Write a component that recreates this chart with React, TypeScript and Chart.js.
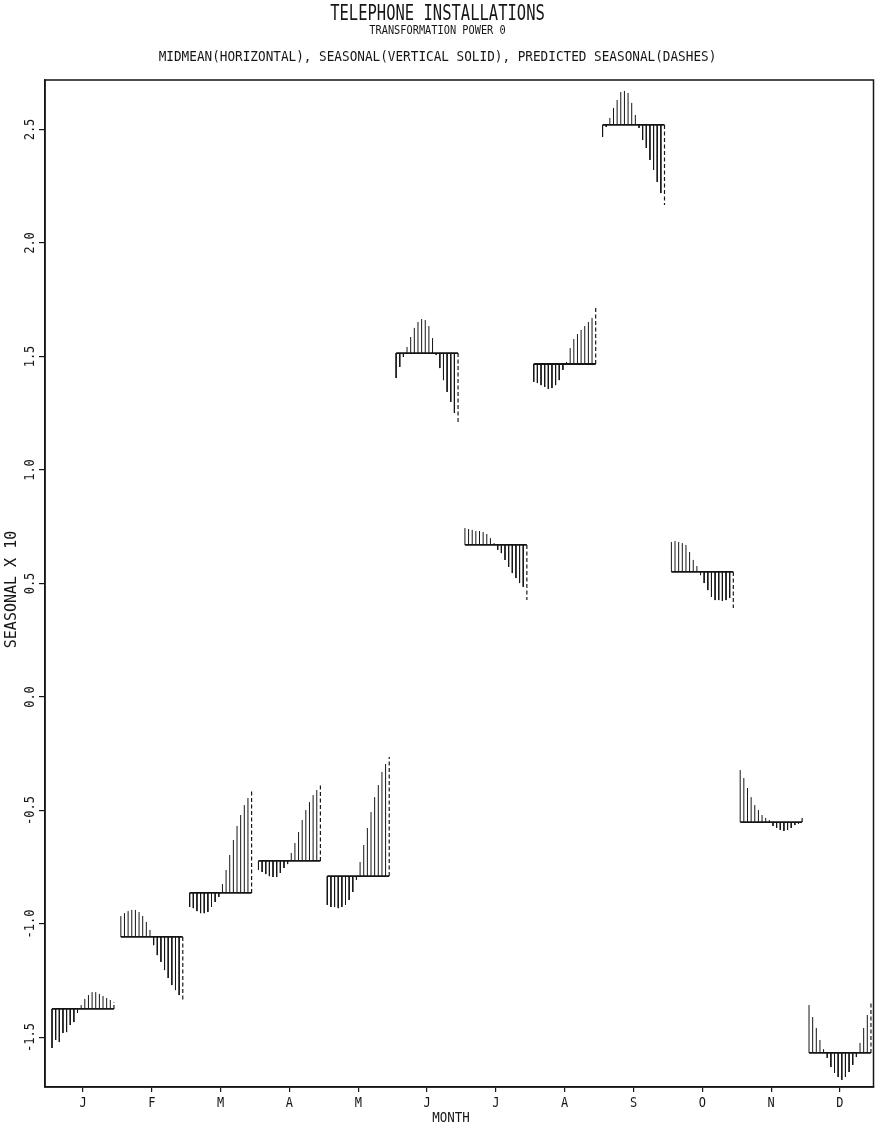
import { useEffect, useRef } from "react";
import { Chart, registerables } from "chart.js";

Chart.register(...registerables);

// Month initials along the horizontal axis
const MONTHS = ["J", "F", "M", "A", "M", "J", "J", "A", "S", "O", "N", "D"];

// Midmean of the seasonal component for each month
const MIDMEAN = [-1.374, -1.057, -0.863, -0.722, -0.789, 1.515, 0.67, 1.467, 2.52, 0.551, -0.551, -1.568];

// Seasonal component (x10), one value per year, for each month
const SEASONAL_JAN = [-1.546, -1.511, -1.52, -1.48, -1.476, -1.445, -1.432, -1.392, -1.357, -1.33, -1.313, -1.3, -1.3, -1.308, -1.317, -1.326, -1.335];
const SEASONAL_FEB = [-0.965, -0.952, -0.943, -0.938, -0.938, -0.947, -0.965, -0.991, -1.026, -1.093, -1.137, -1.167, -1.203, -1.238, -1.269, -1.291, -1.313];
const SEASONAL_MAR = [-0.925, -0.93, -0.943, -0.952, -0.952, -0.947, -0.925, -0.903, -0.881, -0.824, -0.762, -0.696, -0.63, -0.568, -0.52, -0.476, -0.445];
const SEASONAL_APR = [-0.762, -0.771, -0.78, -0.789, -0.793, -0.793, -0.775, -0.753, -0.736, -0.687, -0.643, -0.595, -0.542, -0.498, -0.463, -0.432, -0.41];
const SEASONAL_MAY = [-0.916, -0.925, -0.925, -0.93, -0.925, -0.916, -0.894, -0.859, -0.806, -0.727, -0.652, -0.577, -0.507, -0.441, -0.388, -0.33, -0.295];
const SEASONAL_JUN = [1.405, 1.454, 1.498, 1.542, 1.586, 1.626, 1.652, 1.665, 1.661, 1.634, 1.581, 1.507, 1.449, 1.396, 1.344, 1.3, 1.251];
const SEASONAL_JUL = [0.744, 0.74, 0.736, 0.731, 0.731, 0.727, 0.718, 0.7, 0.678, 0.648, 0.634, 0.604, 0.573, 0.546, 0.524, 0.502, 0.485];
const SEASONAL_AUG = [1.388, 1.383, 1.374, 1.366, 1.357, 1.361, 1.374, 1.396, 1.441, 1.476, 1.537, 1.577, 1.599, 1.617, 1.634, 1.652, 1.67];
const SEASONAL_SEP = [2.467, 2.511, 2.551, 2.595, 2.63, 2.665, 2.67, 2.661, 2.617, 2.564, 2.507, 2.454, 2.419, 2.366, 2.322, 2.269, 2.22];
const SEASONAL_OCT = [0.683, 0.687, 0.683, 0.678, 0.67, 0.639, 0.604, 0.577, 0.537, 0.502, 0.471, 0.441, 0.427, 0.427, 0.423, 0.427, 0.436];
const SEASONAL_NOV = [-0.322, -0.357, -0.401, -0.441, -0.476, -0.498, -0.52, -0.533, -0.542, -0.568, -0.577, -0.586, -0.59, -0.586, -0.577, -0.564, -0.559];
const SEASONAL_DEC = [-1.357, -1.41, -1.458, -1.511, -1.551, -1.59, -1.63, -1.656, -1.674, -1.687, -1.674, -1.652, -1.621, -1.586, -1.524, -1.458, -1.401];

// Predicted seasonal for the following year
const PREDICTED = [-1.344, -1.344, -0.41, -0.383, -0.264, 1.207, 0.427, 1.714, 2.167, 0.392, -0.533, -1.344];

// Value axis tick labels and range
const Y_TICKS = [-1.5, -1.0, -0.5, 0.0, 0.5, 1.0, 1.5, 2.0, 2.5];
const Y_MIN = -1.718;
const Y_MAX = 2.718;

const SEASONAL = [
  SEASONAL_JAN, SEASONAL_FEB, SEASONAL_MAR, SEASONAL_APR, SEASONAL_MAY, SEASONAL_JUN,
  SEASONAL_JUL, SEASONAL_AUG, SEASONAL_SEP, SEASONAL_OCT, SEASONAL_NOV, SEASONAL_DEC,
];

const INK = "#161616";
const FONT = '"DejaVu Sans Mono", "Liberation Mono", monospace';

// Each month owns one unit on the x scale; its years are spread across the middle 90%.
const SEG_START = 0.05;
const SEG_SPAN = 0.9;

type Pt = { x: number; y: number | null };

function yearX(month: number, k: number, steps: number) {
  return month + SEG_START + (k * SEG_SPAN) / steps;
}

function buildSeries() {
  const midmean: Pt[] = [];
  const seasonal: Pt[] = [];
  const predicted: Pt[] = [];
  SEASONAL.forEach((vals, m) => {
    const steps = vals.length; // predicted value takes the last slot
    const mid = MIDMEAN[m];
    const x0 = yearX(m, 0, steps);
    const x1 = yearX(m, steps, steps);
    midmean.push({ x: x0, y: mid }, { x: x1, y: mid }, { x: x1, y: null });
    vals.forEach((v, k) => {
      const x = yearX(m, k, steps);
      seasonal.push({ x, y: mid }, { x, y: v }, { x, y: null });
    });
    predicted.push({ x: x1, y: mid }, { x: x1, y: PREDICTED[m] }, { x: x1, y: null });
  });
  return { midmean, seasonal, predicted };
}

function drawText(
  ctx: CanvasRenderingContext2D,
  text: string,
  x: number,
  y: number,
  size: number,
  angle = 0,
  stretch = 1
) {
  ctx.save();
  ctx.translate(x, y);
  ctx.rotate(angle);
  ctx.scale(1, stretch);
  ctx.font = `${size}px ${FONT}`;
  ctx.fillStyle = INK;
  ctx.textAlign = "center";
  ctx.textBaseline = "middle";
  ctx.fillText(text, 0, 0);
  ctx.restore();
}

const frameAndLabels = {
  id: "frameAndLabels",
  afterDraw(chart: any) {
    const { ctx, chartArea: a, scales } = chart;
    ctx.save();
    ctx.strokeStyle = INK;
    ctx.lineWidth = 1.5;
    ctx.strokeRect(a.left, a.top, a.right - a.left, a.bottom - a.top);
    ctx.restore();

    const ys = scales.y;
    Y_TICKS.forEach((v) => {
      const py = ys.getPixelForValue(v);
      drawText(ctx, v.toFixed(1), 30, py, 12, -Math.PI / 2, 1.15);
    });
    drawText(ctx, "SEASONAL X 10", 12, (a.top + a.bottom) / 2 + 6, 15, -Math.PI / 2, 1.0);

    const xs = scales.x;
    MONTHS.forEach((mLabel, i) => {
      drawText(ctx, mLabel, xs.getPixelForValue(i + 0.5), a.bottom + 16, 12, 0, 1.2);
    });
    drawText(ctx, "MONTH", 451, a.bottom + 31, 12.5, 0, 1.15);
  },
};

export default function App() {
  const ref = useRef<HTMLCanvasElement | null>(null);

  useEffect(() => {
    if (!ref.current) return;
    const { midmean, seasonal, predicted } = buildSeries();
    const chart = new Chart(ref.current, {
      type: "line",
      data: {
        datasets: [
          {
            label: "seasonal",
            data: seasonal as any,
            borderColor: INK,
            borderWidth: 1,
            pointRadius: 0,
            spanGaps: false,
          },
          {
            label: "predicted",
            data: predicted as any,
            borderColor: INK,
            borderWidth: 1.2,
            borderDash: [4, 2.5],
            pointRadius: 0,
            spanGaps: false,
          },
          {
            label: "midmean",
            data: midmean as any,
            borderColor: INK,
            borderWidth: 1.8,
            pointRadius: 0,
            spanGaps: false,
          },
        ],
      },
      options: {
        animation: false,
        responsive: false,
        devicePixelRatio: 1,
        layout: { padding: { top: 80, right: 1.5, left: 0, bottom: 0 } },
        plugins: {
          legend: { display: false },
          tooltip: { enabled: false },
          title: { display: false },
        },
        elements: { point: { radius: 0 }, line: { tension: 0 } },
        scales: {
          x: {
            type: "linear",
            min: -0.052,
            max: 11.987,
            afterBuildTicks: (s: any) => {
              s.ticks = MONTHS.map((_, i) => ({ value: i + 0.5 }));
            },
            afterFit: (s: any) => {
              s.height = 45;
            },
            ticks: { display: false },
            grid: { drawOnChartArea: false, drawTicks: true, tickLength: 5, color: INK, lineWidth: 1.2 },
            border: { display: true, color: INK, width: 1.5 },
          },
          y: {
            type: "linear",
            min: Y_MIN,
            max: Y_MAX,
            afterBuildTicks: (s: any) => {
              s.ticks = Y_TICKS.map((v) => ({ value: v }));
            },
            afterFit: (s: any) => {
              s.width = 45;
            },
            ticks: { display: false },
            grid: { drawOnChartArea: false, drawTicks: true, tickLength: 6, color: INK, lineWidth: 1.2 },
            border: { display: true, color: INK, width: 1.5 },
          },
        },
      },
      plugins: [frameAndLabels],
    });
    return () => chart.destroy();
  }, []);

  const heading = {
    position: "absolute" as const,
    left: 0,
    width: 875,
    textAlign: "center" as const,
    fontFamily: FONT,
    lineHeight: 1,
    whiteSpace: "nowrap" as const,
    color: INK,
    transformOrigin: "center top",
  };

  return (
    <div style={{ position: "absolute", left: 0, top: 0, width: 875, height: 1132, background: "#fff" }}>
      <canvas ref={ref} width={875} height={1132} style={{ position: "absolute", left: 0, top: 0 }} />
      <div style={{ ...heading, top: 2.5, fontSize: 15.5, transform: "scaleY(1.4)" }}>TELEPHONE INSTALLATIONS</div>
      <div style={{ ...heading, top: 22.5, fontSize: 10.3, transform: "scaleY(1.2)" }}>TRANSFORMATION POWER 0</div>
      <div style={{ ...heading, top: 50.3, fontSize: 12.7, transform: "scaleY(1.14)" }}>
        MIDMEAN(HORIZONTAL), SEASONAL(VERTICAL SOLID), PREDICTED SEASONAL(DASHES)
      </div>
    </div>
  );
}
